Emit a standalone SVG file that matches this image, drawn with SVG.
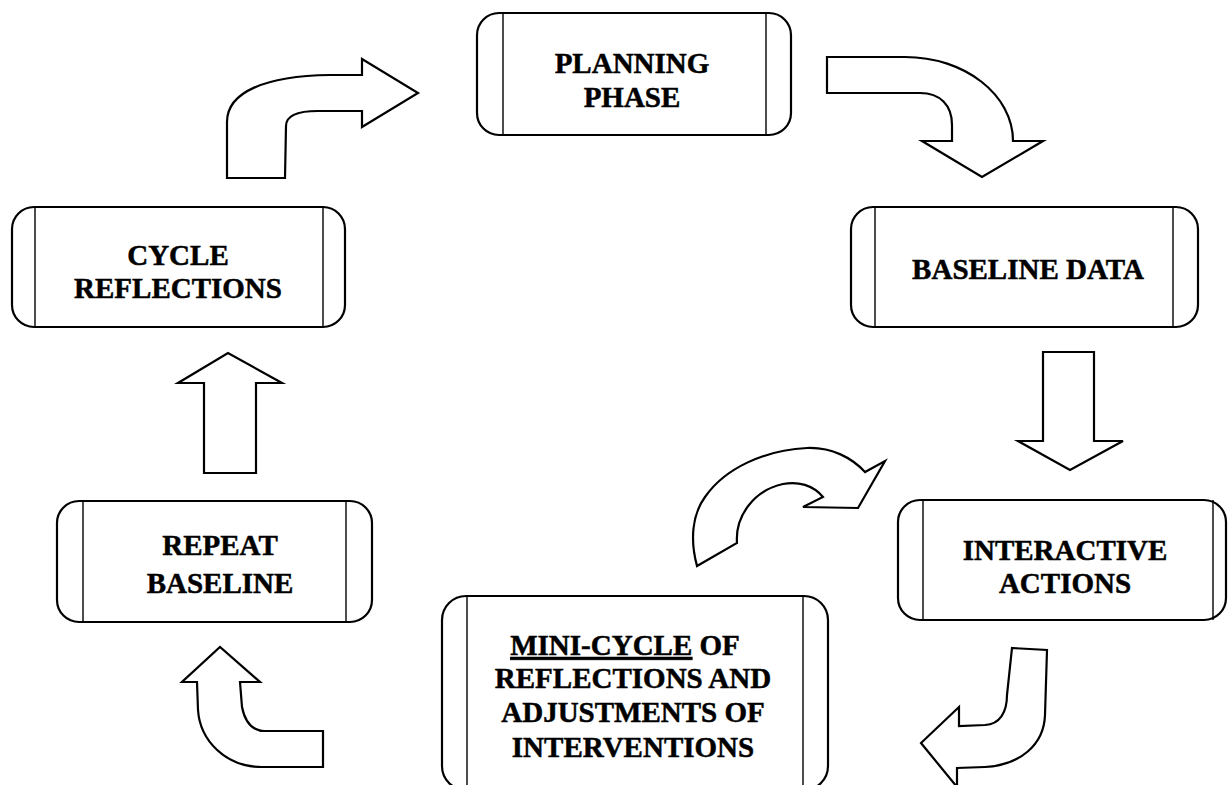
<svg xmlns="http://www.w3.org/2000/svg" width="1228" height="785" viewBox="0 0 1228 785">
<style>
.box{fill:#fff;stroke:#000;stroke-width:2.2}
.div{stroke:#000;stroke-width:1.4;fill:none}
.arr{fill:#fff;stroke:#000;stroke-width:2.2;stroke-linejoin:miter}
text{font-family:'Liberation Serif','Times New Roman',serif;font-weight:700;font-size:29px;fill:#000;stroke:#000;stroke-width:0.5;text-anchor:middle}
</style>
<rect width="1228" height="785" fill="#fff"/>
<g id="connectors">
<path class="arr" d="M227,178 L227,122 C227,92 265,76 330,75 L362,75 L362,59 L418,93 L362,127 L362,111 L318,111 C298,111 286,115 286,126 L285,178 Z"/>
<path class="arr" d="M827,57 L905,57 C965,57 1013,95 1013,141 L1043,141 L982,177 L922,141 L952,141 L952,125 C952,105 940,93 920,93 L827,93 Z"/>
<path class="arr" d="M1043,352 L1094,352 L1094,441 L1123,441 L1070,470 L1018,441 L1043,441 Z"/>
<path class="arr" d="M697,566 C690,540 692,515 705,497 C725,468 765,450 807,448 C832,447 852,458 865,472 L885,461 L858,508 L803,507 L823,497 C813,485 798,481 783,484 C755,490 735,515 737,543 Z"/>
<path class="arr" d="M1012,648 L1047,650 L1045,715 C1044,745 1020,765 985,767 L957,768 L957,787 L921,743 L959,707 L959,726 L985,725 C1000,724 1007,712 1007,695 Z"/>
<path class="arr" d="M197,682 L182,682 L220,647 L260,682 L240,682 L242,707 C245,722 252,731 265,731 L323,731 L323,767 L262,767 C225,767 200,740 198,710 Z"/>
<path class="arr" d="M204,473 L204,383 L178,383 L228,353 L282,383 L256,383 L256,473 Z"/>
</g>
<g id="planning">
<rect class="box" x="477" y="13" width="314" height="122" rx="22"/>
<line class="div" x1="503" y1="13" x2="503" y2="135"/>
<line class="div" x1="766" y1="13" x2="766" y2="135"/>
<text x="632" y="73">PLANNING</text>
<text x="632" y="107">PHASE</text>
</g>
<g id="baseline">
<rect class="box" x="851" y="207" width="347" height="120" rx="22"/>
<line class="div" x1="875" y1="207" x2="875" y2="327"/>
<line class="div" x1="1173" y1="207" x2="1173" y2="327"/>
<text x="1028" y="279">BASELINE DATA</text>
</g>
<g id="cycle">
<rect class="box" x="12" y="207" width="333" height="120" rx="22"/>
<line class="div" x1="35" y1="207" x2="35" y2="327"/>
<line class="div" x1="323" y1="207" x2="323" y2="327"/>
<text x="178" y="265">CYCLE</text>
<text x="178" y="298">REFLECTIONS</text>
</g>
<g id="repeat">
<rect class="box" x="57" y="501" width="315" height="121" rx="22"/>
<line class="div" x1="83" y1="501" x2="83" y2="622"/>
<line class="div" x1="346" y1="501" x2="346" y2="622"/>
<text x="220" y="555">REPEAT</text>
<text x="220" y="593">BASELINE</text>
</g>
<g id="interactive">
<rect class="box" x="898" y="500" width="328" height="120" rx="22"/>
<line class="div" x1="923" y1="500" x2="923" y2="620"/>
<line class="div" x1="1213" y1="500" x2="1213" y2="620"/>
<text x="1065" y="560">INTERACTIVE</text>
<text x="1065" y="593">ACTIONS</text>
</g>
<g id="minicycle">
<rect class="box" x="442" y="596" width="386" height="194" rx="24"/>
<line class="div" x1="467" y1="596" x2="467" y2="790"/>
<line class="div" x1="803" y1="596" x2="803" y2="790"/>
<text x="625" y="655"><tspan text-decoration="underline">MINI-CYCLE</tspan> OF</text>
<text x="633" y="688">REFLECTIONS AND</text>
<text x="633" y="722">ADJUSTMENTS OF</text>
<text x="633" y="757">INTERVENTIONS</text>
</g>
</svg>
